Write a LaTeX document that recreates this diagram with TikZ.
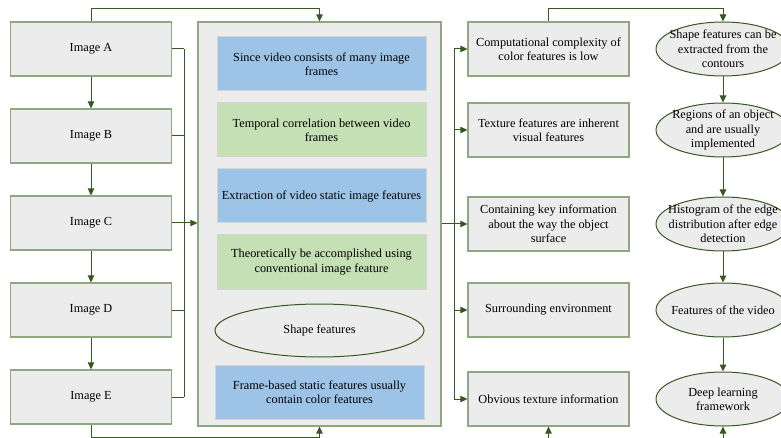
\documentclass[tikz,border=0pt]{standalone}
\usepackage{fontspec}
\setmainfont{Liberation Serif}
\usetikzlibrary{shapes.geometric,arrows.meta}
\definecolor{boxgray}{RGB}{236,236,236}
\definecolor{boxline}{RGB}{143,168,128}
\definecolor{darkgreen}{RGB}{56,87,35}
\definecolor{lightblue}{RGB}{157,195,230}
\definecolor{lightgreen}{RGB}{197,224,180}
\definecolor{paleline}{RGB}{212,212,212}
\tikzset{
  txt/.style = {font=\fontsize{12.3}{14.4}\selectfont, align=center, text=black},
  imgbox/.style = {txt, draw=boxline, fill=boxgray, line width=1.2pt, minimum width=161, minimum height=54, inner sep=0},
  contbox/.style = {draw=boxline, fill=boxgray, line width=1.2pt, minimum width=243, minimum height=404, inner sep=0},
  bluebox/.style = {txt, draw=paleline, fill=lightblue, line width=1pt, minimum width=209, minimum height=54, inner sep=0},
  greenbox/.style = {bluebox, fill=lightgreen},
  featell/.style = {txt, ellipse, draw=darkgreen, fill=boxgray, line width=1pt, minimum width=134, minimum height=54, inner sep=0},
  link/.style = {draw=darkgreen, line width=1pt},
  arr/.style = {link, -{Triangle[length=7pt,width=6.5pt]}}
}
\begin{document}
\begin{tikzpicture}[x=1pt, y=-1pt]
\useasboundingbox (0,0) rectangle (781,438);
\foreach \n [count=\i from 0] in {A,...,E} \node[imgbox] (img\n) at (91,49+87*\i) {Image \n};
\foreach \a/\b in {A/B,B/C,C/D,D/E} \draw[arr] (img\a) -- (img\b);
\node[contbox] (feat) at (319.5,224) {};
\node[bluebox] (since) at (321.5,64) {Since video consists of many image\\frames};
\node[greenbox] (temporal) at (321.5,130) {Temporal correlation between video\\frames};
\node[bluebox] (extract) at (321.5,196) {Extraction of video static image features};
\node[greenbox] (theory) at (321.5,262) {Theoretically be accomplished using\\conventional image feature};
\node[featell, minimum width=209, minimum height=53] (shape) at (319.5,330.5) {Shape features};
\node[bluebox] (frame) at (319.5,392.5) {Frame-based static features usually\\contain color features};
\coordinate (lbus) at (184,49);
\foreach \n in {A,...,E} \draw[link] (img\n.east) -- (img\n.east -| lbus);
\draw[link] (imgA.east -| lbus) -- (imgE.east -| lbus);
\draw[arr] (imgC.east -| lbus) -- (imgC.east -| feat.west);
\draw[arr] (imgA.north) -- ++(0,-13) -| (feat.north);
\draw[arr] (imgE.south) -- ++(0,13) -| (feat.south);
\foreach \y/\t [count=\i] in {49/{Computational complexity of\\color features is low}, 130/{Texture features are inherent\\visual features}, 224/{Containing key information\\about the way the object\\surface}, 310/{Surrounding environment}, 399/{Obvious texture information}}
  \node[imgbox] (f\i) at (548.5,\y) {\t};
\coordinate (rbus) at (454,49);
\draw[link] (feat.east) -- (feat.east -| rbus);
\draw[link] (f1.west -| rbus) -- (f5.west -| rbus);
\foreach \i in {1,...,5} \draw[arr] (f\i.west -| rbus) -- (f\i.west);
\foreach \y/\t [count=\i] in {49/{Shape features can be\\extracted from the\\contours}, 130/{Regions of an object\\and are usually\\implemented}, 224/{Histogram of the edge\\distribution after edge\\detection}, 310/{Features of the video}, 399/{Deep learning\\framework}}
  \node[featell, label={[txt]center:{\t}}] (s\i) at (723,\y) {};
\draw[arr] (f1.north) -- ++(0,-13) -| (s1.north);
\foreach \a/\b in {1/2,2/3,3/4,4/5} \draw[arr] (s\a) -- (s\b);
\coordinate (fbot) at (548.5,440);
\coordinate (sbot) at (723,440);
\draw[arr] (fbot) -- (f5.south);
\draw[arr] (sbot) -- (s5.south);
\end{tikzpicture}
\end{document}
